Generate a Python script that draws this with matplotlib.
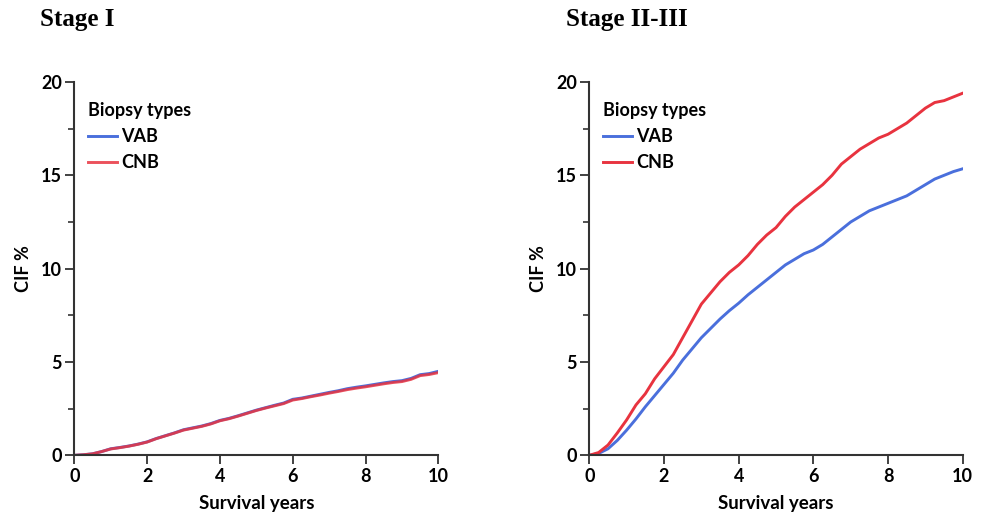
import numpy as np
import matplotlib
matplotlib.use("Agg")
import matplotlib.pyplot as plt
from matplotlib.ticker import MultipleLocator

plt.rcParams['font.family'] = ['Lato', 'DejaVu Sans']

# Годы наблюдения
years = [0, 0.25, 0.5, 0.75, 1.0, 1.25, 1.5, 1.75, 2.0, 2.25, 2.5, 2.75, 3.0, 3.25,
         3.5, 3.75, 4.0, 4.25, 4.5, 4.75, 5.0, 5.25, 5.5, 5.75, 6.0, 6.25, 6.5, 6.75,
         7.0, 7.25, 7.5, 7.75, 8.0, 8.25, 8.5, 8.75, 9.0, 9.25, 9.5, 9.75, 10.0]

# Stage I (CIF %)
stage1_vab = [0, 0.03, 0.08, 0.2, 0.35, 0.42, 0.5, 0.6, 0.72, 0.9, 1.05, 1.2, 1.37, 1.47,
              1.57, 1.7, 1.87, 1.98, 2.12, 2.27, 2.42, 2.55, 2.68, 2.8, 3.0, 3.07, 3.17, 3.27,
              3.37, 3.46, 3.57, 3.65, 3.72, 3.8, 3.88, 3.95, 4.0, 4.12, 4.32, 4.38, 4.5]
stage1_cnb = [0, 0.03, 0.08, 0.2, 0.34, 0.41, 0.49, 0.59, 0.71, 0.89, 1.04, 1.19, 1.35, 1.45,
              1.55, 1.68, 1.85, 1.96, 2.1, 2.25, 2.4, 2.53, 2.65, 2.77, 2.96, 3.04, 3.14, 3.23,
              3.33, 3.42, 3.52, 3.6, 3.67, 3.75, 3.83, 3.9, 3.95, 4.07, 4.27, 4.33, 4.43]

# Stage II-III (CIF %)
stage23_vab = [0, 0.1, 0.35, 0.8, 1.35, 1.95, 2.6, 3.2, 3.8, 4.4, 5.1, 5.7, 6.3, 6.8,
               7.3, 7.75, 8.15, 8.6, 9.0, 9.4, 9.8, 10.2, 10.5, 10.8, 11.0, 11.3, 11.7, 12.1,
               12.5, 12.8, 13.1, 13.3, 13.5, 13.7, 13.9, 14.2, 14.5, 14.8, 15.0, 15.2, 15.35]
stage23_cnb = [0, 0.15, 0.55, 1.2, 1.9, 2.7, 3.3, 4.1, 4.75, 5.4, 6.3, 7.2, 8.1, 8.7,
               9.3, 9.8, 10.2, 10.7, 11.3, 11.8, 12.2, 12.8, 13.3, 13.7, 14.1, 14.5, 15.0, 15.6,
               16.0, 16.4, 16.7, 17.0, 17.2, 17.5, 17.8, 18.2, 18.6, 18.9, 19.0, 19.2, 19.4]

titles = ["Stage I", "Stage II-III"]
series = [(stage1_vab, stage1_cnb), (stage23_vab, stage23_cnb)]
labels = ["VAB", "CNB"]
colors = ["#4a6fdc", "#e8333f"]

fig = plt.figure(figsize=(9.84, 5.15), dpi=100)
axes_pos = [[0.0755, 0.1159, 0.370, 0.7249], [0.5989, 0.1159, 0.3795, 0.7249]]
title_x = [40 / 984, 566 / 984]

for pos, tx, title, (vab, cnb) in zip(axes_pos, title_x, titles, series):
    ax = fig.add_axes(pos)
    ax.plot(years, vab, color=colors[0], lw=2.1, label=labels[0])
    ax.plot(years, cnb, color=colors[1], lw=2.1, label=labels[1],
            alpha=0.85 if title == "Stage I" else 1.0)
    ax.set_xlim(0, 10)
    ax.set_ylim(0, 20)
    ax.set_xticks([0, 2, 4, 6, 8, 10])
    ax.set_yticks([0, 5, 10, 15, 20])
    ax.yaxis.set_minor_locator(MultipleLocator(2.5))
    for s in ["top", "right"]:
        ax.spines[s].set_visible(False)
    for s in ["left", "bottom"]:
        ax.spines[s].set_color("#333333")
        ax.spines[s].set_linewidth(1.5)
    ax.tick_params(which="major", length=6.5, width=1.3, color="#333333",
                   labelsize=13, pad=2.5)
    ax.tick_params(which="minor", length=4, width=1.2, color="#333333")
    for lab in ax.get_xticklabels() + ax.get_yticklabels():
        lab.set_fontweight("bold")
    ax.set_xlabel("Survival years", fontsize=13.5, fontweight="bold", labelpad=7)
    ax.set_ylabel("CIF %", fontsize=13, fontweight="bold", labelpad=6)
    leg = ax.legend(title="Biopsy types", loc="upper left", frameon=False,
                    bbox_to_anchor=(-0.012, 0.995), fontsize=13, title_fontsize=13,
                    handlelength=1.6, handletextpad=0.25, labelspacing=0.5,
                    borderaxespad=0.6)
    leg._legend_box.align = "left"
    leg.get_title().set_fontweight("bold")
    for t in leg.get_texts():
        t.set_fontweight("bold")
    fig.text(tx, 1 - 26 / 515, title, family="Liberation Serif",
             fontsize=18, fontweight="bold", va="baseline", ha="left")

fig.savefig("out.png", dpi=100)
